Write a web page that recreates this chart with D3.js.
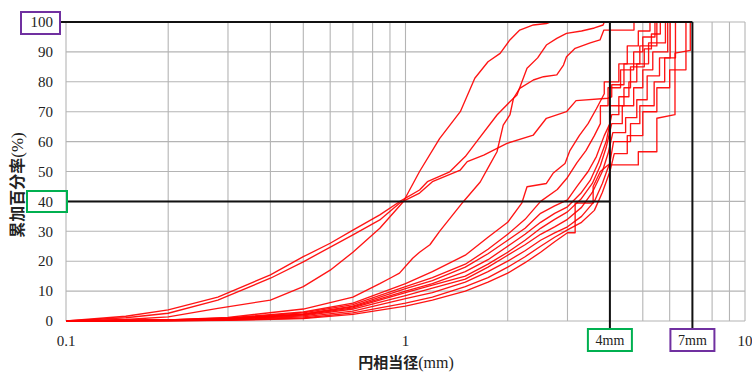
<!DOCTYPE html>
<html><head><meta charset="utf-8">
<script src="https://cdn.jsdelivr.net/npm/d3@7/dist/d3.min.js"></script>
<style>body{margin:0;background:#fff}svg{display:block}</style>
</head><body><svg id="c" width="752" height="372"></svg>
<script>
// ---- data (size in mm, cumulative %) ----
const yTicks = [0,10,20,30,40,50,60,70,80,90,100];
const xTickLabels = [{v:0.1,t:"0.1"},{v:1,t:"1"},{v:10,t:"10"}];
const xGrid = [0.1,0.2,0.3,0.4,0.5,0.6,0.7,0.8,0.9,1,2,3,4,5,6,7,8,9,10];
const markerSizes = [{v:4,t:"4mm",pct:40,color:"#00b050"},{v:7,t:"7mm",pct:100,color:"#7030a0"}];

const sampleF1 = [[0.1,0],[0.15,1.6],[0.2,3.7],[0.28,8],[0.4,15.4],[0.5,21.5],[0.6,26],[0.7,30.4],[0.84,35.5],[0.96,39.9],[1.1,43.8],[1.16,46.6],[1.35,49.9],[1.5,55],[1.62,60],[1.86,68.9],[2.03,73.3],[2.13,75.6],[2.28,84.5],[2.45,88],[2.6,92.3],[2.79,94.5],[2.98,96.2],[3.3,97],[3.6,98],[3.82,99],[3.85,100]];
const sampleF2 = [[0.1,0],[0.15,1.1],[0.2,2.6],[0.28,7],[0.4,14.3],[0.5,19.8],[0.7,28.8],[0.84,33.8],[0.96,39.4],[1.1,42.8],[1.2,46.6],[1.45,50.5],[1.52,53.3],[1.7,55.5],[1.99,59.4],[2.38,62.2],[2.6,67.8],[2.98,70],[3.18,73.7],[3.95,74.5],[4.05,75],[4.05,79],[4.4,79],[4.4,86],[4.9,86],[4.9,92],[5.5,92],[5.5,100]];
const sampleF3 = [[0.1,0],[0.15,0.5],[0.2,1.4],[0.28,4.2],[0.4,7],[0.5,11.5],[0.6,17],[0.7,23],[0.84,31],[0.985,39.9],[1.1,50],[1.26,61],[1.45,70],[1.6,81.2],[1.75,86.7],[1.9,89.5],[2.03,94],[2.17,97.3],[2.38,99],[2.6,99.5],[2.67,100]];
const sampleM2 = [[0.1,0],[0.2,0.4],[0.3,1.2],[0.5,4],[0.7,8],[0.84,12.5],[0.9,14.3],[0.96,16],[1.05,21],[1.1,23],[1.18,25.5],[1.26,30],[1.48,39.9],[1.66,46.5],[1.77,52.2],[1.86,56.6],[1.94,65.5],[2.03,68.9],[2.08,74.5],[2.17,77.8],[2.38,80.6],[2.55,81.7],[2.79,82.3],[2.92,85.6],[2.98,88.4],[3.16,91.2],[3.5,93],[3.74,94],[3.84,97.3],[4.71,97.3],[4.71,100]];
const sampleC1 = [[0.1,0],[0.2,0.4],[0.3,1],[0.5,3],[0.7,6],[1,12.5],[1.2,16.5],[1.5,22],[1.75,28],[2,33],[2.2,39.4],[2.28,44.9],[2.6,46],[2.72,49.4],[2.95,52.7],[3.05,57],[3.25,62],[3.45,66],[3.65,71],[3.85,76],[3.85,80],[4.25,80],[4.25,86],[4.5,86],[4.5,92],[4.85,92],[4.85,97],[5.25,97],[5.25,100]];
const sampleC2 = [[0.1,0],[0.2,0.35],[0.3,0.9],[0.5,2.7],[0.7,5.5],[1,11.5],[1.2,14.5],[1.5,19],[1.75,24],[2,29],[2.25,34],[2.5,40],[2.8,44],[3,48],[3.2,53],[3.4,57],[3.6,62],[3.75,66],[3.75,72],[3.95,72],[3.95,78],[4.3,78],[4.3,84],[4.7,84],[4.7,90],[5.0,90],[5.0,95],[5.43,95],[5.43,100]];
const sampleC3 = [[0.1,0],[0.2,0.3],[0.3,0.8],[0.5,2.4],[0.7,5],[1,10.8],[1.2,13.5],[1.5,18],[1.75,22.5],[2,27],[2.25,31],[2.5,36],[2.75,38.5],[3,40.5],[3.2,45],[3.45,50],[3.65,55],[3.85,62],[4.0,66],[4.0,72],[4.4,72],[4.4,78],[4.6,78],[4.6,85],[5.05,85],[5.05,91],[5.3,91],[5.3,96],[5.63,96],[5.63,100]];
const sampleC4 = [[0.1,0],[0.2,0.3],[0.3,0.7],[0.5,2.2],[0.7,4.7],[1,10],[1.2,12.5],[1.5,16.5],[1.75,20.5],[2,25],[2.25,29],[2.5,33],[2.75,36],[3,38.2],[3.3,43],[3.5,47],[3.7,53],[3.9,60],[4.05,69],[4.25,69],[4.25,75],[4.55,75],[4.55,80],[4.8,80],[4.8,86],[5.2,86],[5.2,93],[5.83,93],[5.83,100]];
const sampleC5 = [[0.1,0],[0.2,0.25],[0.3,0.6],[0.5,2],[0.7,4.4],[1,9.5],[1.2,12],[1.5,15],[1.75,19],[2,23],[2.25,27],[2.5,31],[2.75,34],[3,36.5],[3.3,41],[3.55,46],[3.75,52],[3.9,58],[4.05,66],[4.35,66],[4.35,72],[4.7,72],[4.7,78],[5.0,78],[5.0,84],[5.35,84],[5.35,90],[5.92,90],[5.92,100]];
const sampleC6 = [[0.1,0],[0.2,0.2],[0.3,0.5],[0.5,1.7],[0.7,4],[1,8.5],[1.2,11],[1.5,14],[1.75,18],[2,22],[2.25,25.5],[2.5,29],[2.75,31.5],[3,34],[3.3,38],[3.55,43],[3.8,50],[3.95,56],[4.08,63],[4.45,63],[4.45,68],[4.8,68],[4.8,74],[5.15,74],[5.15,82],[5.6,82],[5.6,88],[6.02,88],[6.02,100]];
const sampleC7 = [[0.1,0],[0.2,0.15],[0.3,0.4],[0.5,1.4],[0.7,3.3],[1,7.5],[1.2,9.5],[1.5,13],[1.75,16.5],[2,20],[2.25,23.5],[2.5,27],[2.75,29.5],[3,31.5],[3.3,35],[3.6,40],[3.8,46],[4.0,53],[4.1,60],[4.6,60],[4.6,66],[4.9,66],[4.9,72],[5.4,72],[5.4,80],[5.8,80],[5.8,88],[6.24,88],[6.24,100]];
const sampleC8 = [[0.1,0],[0.2,0.1],[0.3,0.3],[0.5,1],[0.7,2.7],[1,6],[1.2,8],[1.5,11.5],[1.75,14.5],[2,18],[2.25,21.5],[2.5,25],[2.75,28],[3,30.5],[3.3,33],[3.6,37],[3.8,43],[4.0,50],[4.12,56],[4.5,56],[4.5,62],[5.0,62],[5.0,70],[5.5,70],[5.5,78],[6.0,78],[6.0,84],[6.7,84],[6.7,100]];
const sampleC9 = [[0.1,0],[0.2,0.1],[0.3,0.2],[0.5,0.8],[0.7,2.2],[1,5],[1.2,7],[1.5,10],[1.75,13],[2,16],[2.25,19.5],[2.5,23],[2.75,26.5],[3,29.5],[3.16,29.5],[3.16,39.4],[3.57,39.4],[3.57,45],[3.75,50],[3.95,52.2],[4.85,52.2],[4.85,56.6],[5.5,56.6],[5.5,67.8],[6.22,69],[6.22,89.6],[6.9,90.5],[6.9,100]];
const samples = [sampleC9,sampleC8,sampleC7,sampleC6,sampleC5,sampleC4,sampleC3,sampleC2,sampleC1,sampleM2,sampleF3,sampleF2,sampleF1];

// ---- drawing ----
const svg = d3.select("#c");
const x = d3.scaleLog().domain([0.1,10]).range([66,745]);
const y = d3.scaleLinear().domain([0,100]).range([321,22]);
const serif = "'Liberation Serif','Times New Roman',serif";
const cjk = "'Noto Sans CJK JP','Noto Sans CJK SC',sans-serif";

const g = svg.append("g");
g.selectAll("line.v").data(xGrid).join("line")
  .attr("x1",d=>x(d)).attr("x2",d=>x(d)).attr("y1",y(0)).attr("y2",y(100))
  .attr("stroke","#b4b4b4").attr("stroke-width",1.1);
g.selectAll("line.h").data(yTicks).join("line")
  .attr("x1",x(0.1)).attr("x2",x(10)).attr("y1",d=>y(d)).attr("y2",d=>y(d))
  .attr("stroke","#b4b4b4").attr("stroke-width",1.1);

const line = d3.line().x(d=>x(d[0])).y(d=>y(d[1]));
svg.append("g").selectAll("path").data(samples).join("path")
  .attr("d",line).attr("fill","none").attr("stroke","#ff0000")
  .attr("stroke-width",1.35).attr("stroke-linejoin","round").attr("opacity",0.92);

// black reference lines
const blk = svg.append("g").attr("stroke","#111").attr("stroke-width",2);
blk.append("line").attr("x1",60).attr("x2",x(7)).attr("y1",y(100)).attr("y2",y(100));
blk.append("line").attr("x1",67).attr("x2",x(4)).attr("y1",y(40)).attr("y2",y(40));
markerSizes.forEach(m=>{
  blk.append("line").attr("x1",x(m.v)).attr("x2",x(m.v)).attr("y1",y(100)).attr("y2",329);
});

// y tick labels
svg.append("g").selectAll("text").data(yTicks).join("text")
  .attr("x",53).attr("y",d=>y(d)).attr("dy","0.35em").attr("text-anchor","end")
  .attr("font-family",serif).attr("font-size",15).attr("fill","#222").text(d=>d);
// x tick labels
svg.append("g").selectAll("text").data(xTickLabels).join("text")
  .attr("x",d=>x(d.v)).attr("y",346).attr("text-anchor","middle")
  .attr("font-family",serif).attr("font-size",15).attr("fill","#222").text(d=>d.t);

// boxes on y axis
svg.append("rect").attr("x",21).attr("y",12).attr("width",39).attr("height",22)
  .attr("fill","none").attr("stroke","#7030a0").attr("stroke-width",2);
svg.append("rect").attr("x",27).attr("y",191).attr("width",40).attr("height",21)
  .attr("fill","none").attr("stroke","#00b050").attr("stroke-width",2);
// boxes on x axis
markerSizes.forEach(m=>{
  svg.append("rect").attr("x",x(m.v)-22).attr("y",329).attr("width",44).attr("height",22)
    .attr("fill","#fff").attr("stroke",m.color).attr("stroke-width",2);
  svg.append("text").attr("x",x(m.v)).attr("y",345).attr("text-anchor","middle")
    .attr("font-family",serif).attr("font-size",14).attr("fill","#222").text(m.t);
});

// axis titles
const xt = svg.append("text").attr("x",406).attr("y",368).attr("text-anchor","middle")
  .attr("font-family",cjk).attr("font-size",15).attr("font-weight","bold").attr("fill","#222");
xt.append("tspan").text("円相当径");
xt.append("tspan").attr("font-family",serif).attr("font-weight","normal").attr("font-size",16).text("(mm)");
const yt = svg.append("text").attr("transform","translate(23,185) rotate(-90)").attr("text-anchor","middle")
  .attr("font-family",cjk).attr("font-size",16).attr("font-weight","bold").attr("fill","#222");
yt.append("tspan").text("累加百分率");
yt.append("tspan").attr("font-family",serif).attr("font-weight","normal").attr("font-size",17).text("(%)");
</script></body></html>
